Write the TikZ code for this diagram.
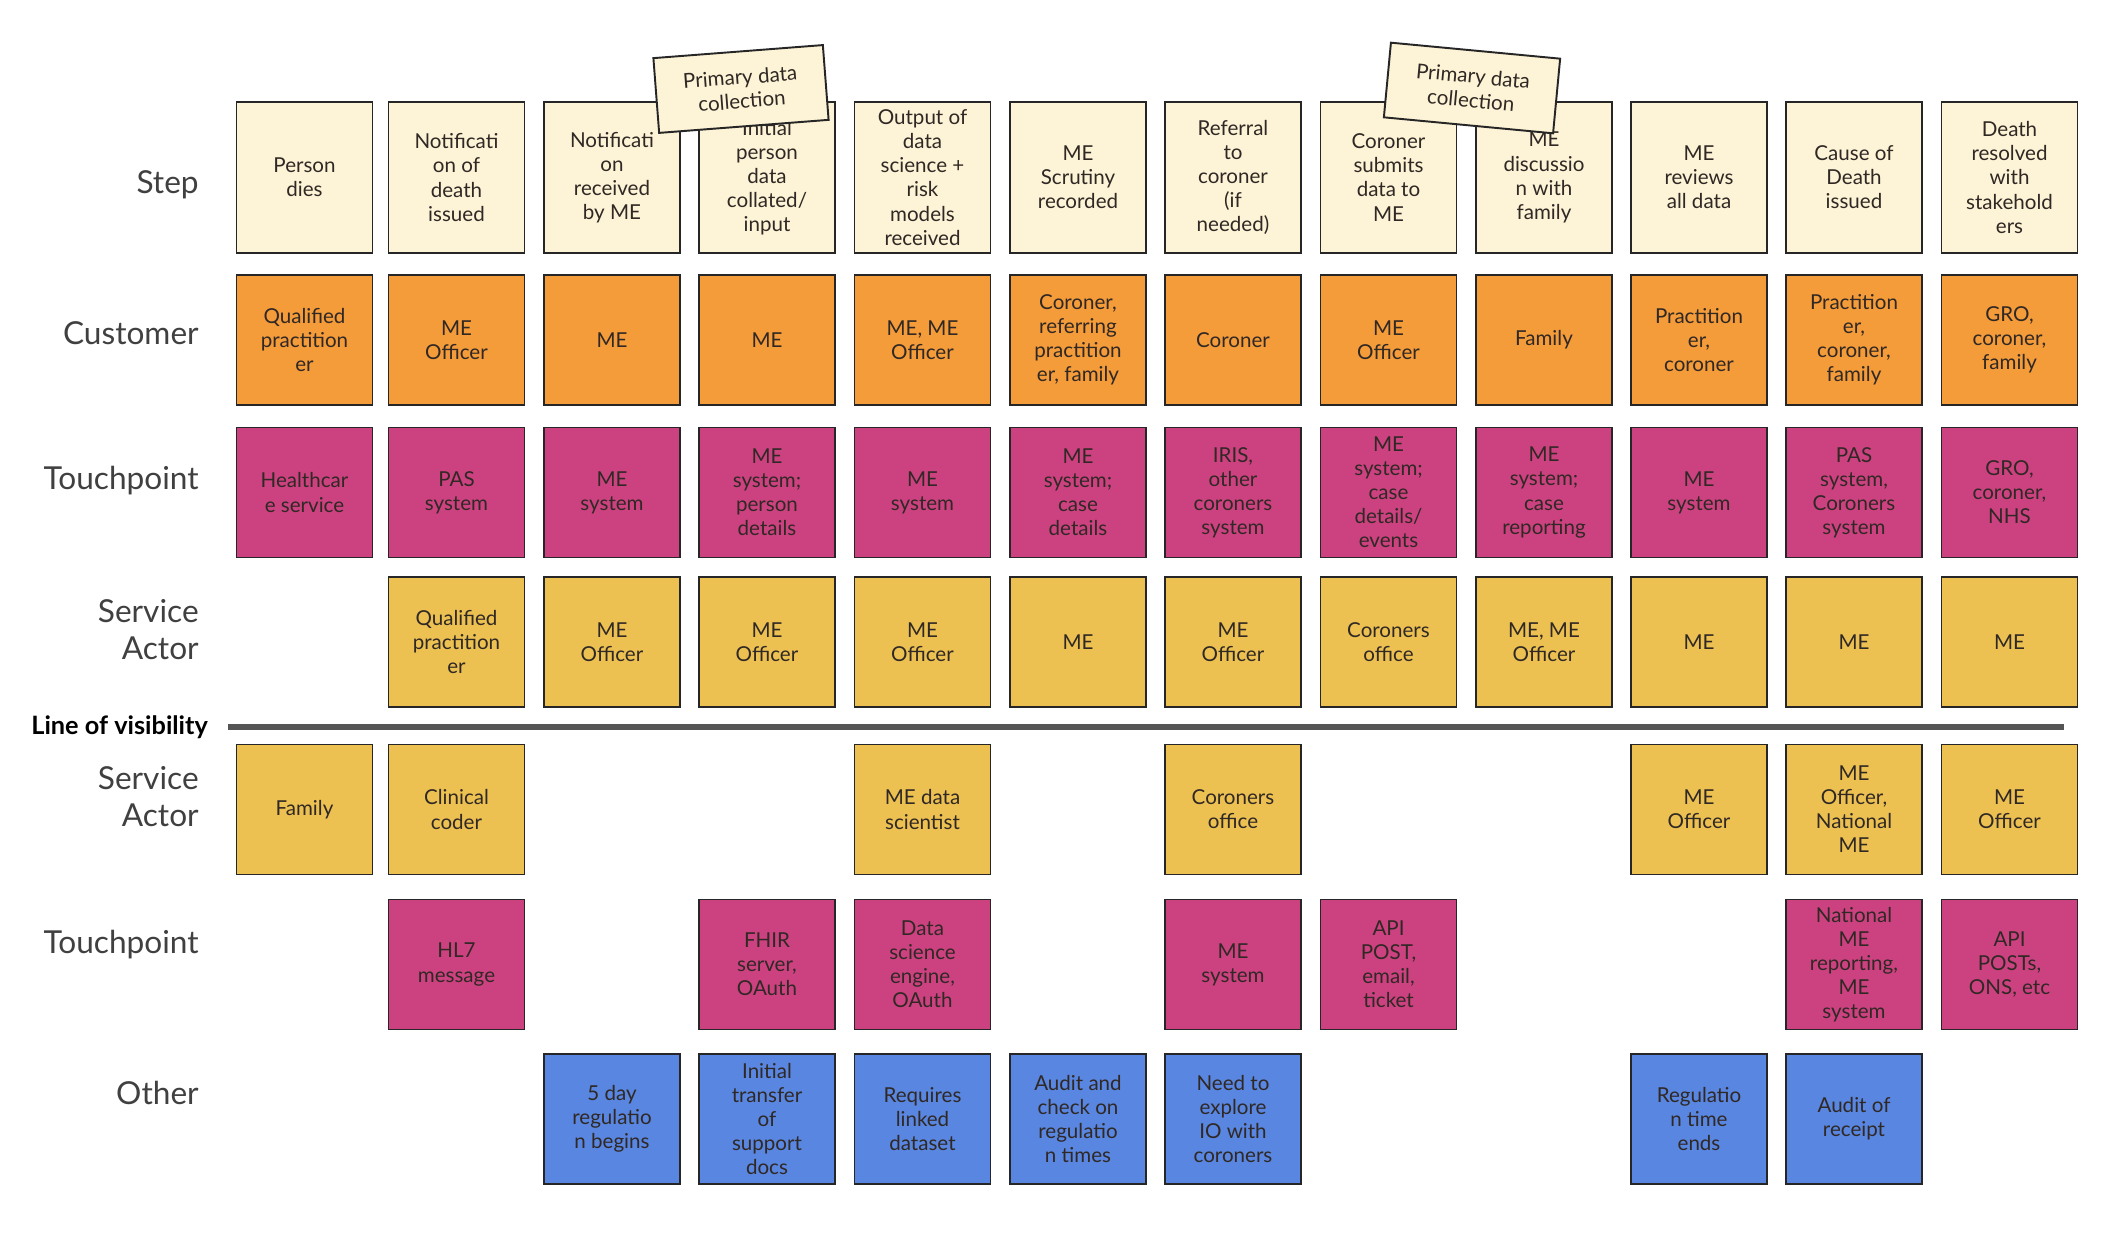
\documentclass[tikz,border=0pt]{standalone}
\usepackage{fontspec}
\setmainfont{Lato}
\usepackage{xcolor}
\usepackage{tikz}
\usetikzlibrary{positioning}
\definecolor{stepcol}{RGB}{253,243,214}
\definecolor{custcol}{RGB}{244,155,58}
\definecolor{touchcol}{RGB}{204,66,128}
\definecolor{actorcol}{RGB}{236,193,82}
\definecolor{othercol}{RGB}{88,134,224}
\definecolor{inkcol}{RGB}{48,40,36}
\definecolor{labelcol}{RGB}{64,64,64}
\definecolor{vizcol}{RGB}{85,85,85}

\begin{document}
\begin{tikzpicture}[
  x=0.02cm, y=-0.02cm,
  card/.style={draw=black!85, line width=1.1pt, inner sep=0pt, align=center,
               minimum width=2.72cm, minimum height=2.6cm, text=inkcol,
               font=\fontsize{11.7}{13.7}\selectfont},
  stepbox/.style={card, fill=stepcol, minimum height=3.02cm},
  custbox/.style={card, fill=custcol},
  touchbox/.style={card, fill=touchcol},
  actorbox/.style={card, fill=actorcol},
  otherbox/.style={card, fill=othercol},
  stickynote/.style={card, fill=stepcol, minimum width=3.4cm,
                     minimum height=1.5cm},
  rowlabel/.style={anchor=east, align=right, text=labelcol, inner sep=0pt,
                   font=\fontsize{18}{21}\selectfont},
  vizline/.style={draw=vizcol, line width=3.4pt}
]
  \fill[white] (0,0) rectangle (2114,1246);
  \useasboundingbox (0,0) rectangle (2114,1246);

  % row labels
  \node[rowlabel] (lstep) at (199,185) {Step};
  \node[rowlabel] (lcust) at (199,333) {Customer};
  \node[rowlabel] (ltouch) at (199,481) {Touchpoint};
  \node[rowlabel] (lactor) at (199,630) {Service\\Actor};
  \node[rowlabel] (lback) at (199,797) {Service\\Actor};
  \node[rowlabel] (lbtouch) at (199,945) {Touchpoint};
  \node[rowlabel] (lother) at (199,1093) {Other};

  % step row
  \node[stepbox] (step1) at (304.5,177.5) {Person\\dies};
  \node[stepbox] (step2) at (456.5,177.5) {Notificati\\on of\\death\\issued};
  \node[stepbox] (step3) at (612,177.5) {Notificati\\on\\received\\by ME};
  \node[stepbox] (step4) at (767,177.5) {Initial\\person\\data\\collated/\\input};
  \node[stepbox] (step5) at (922.5,177.5) {Output of\\data\\science +\\risk\\models\\received};
  \node[stepbox] (step6) at (1078,177.5) {ME\\Scrutiny\\recorded};
  \node[stepbox] (step7) at (1233,177.5) {Referral\\to\\coroner\\(if\\needed)};
  \node[stepbox] (step8) at (1388.5,177.5) {Coroner\\submits\\data to\\ME};
  \node[stepbox] (step9) at (1544,177.5) {ME\\discussio\\n with\\family};
  \node[stepbox] (step10) at (1699,177.5) {ME\\reviews\\all data};
  \node[stepbox] (step11) at (1854,177.5) {Cause of\\Death\\issued};
  \node[stepbox] (step12) at (2009.5,177.5) {Death\\resolved\\with\\stakehold\\ers};

  % sticky notes over the steps
  \node[stickynote, rotate=4.4] (note1) at (741,89) {Primary data\\collection};
  \node[stickynote, rotate=-5.4] (note2) at (1472,88) {Primary data\\collection};

  % customer row
  \node[custbox] (cust1) at (304.5,340) {Qualified\\practition\\er};
  \node[custbox] (cust2) at (456.5,340) {ME\\Officer};
  \node[custbox] (cust3) at (612,340) {ME};
  \node[custbox] (cust4) at (767,340) {ME};
  \node[custbox] (cust5) at (922.5,340) {ME, ME\\Officer};
  \node[custbox] (cust6) at (1078,340) {Coroner,\\referring\\practition\\er, family};
  \node[custbox] (cust7) at (1233,340) {Coroner};
  \node[custbox] (cust8) at (1388.5,340) {ME\\Officer};
  \node[custbox] (cust9) at (1544,340) {Family};
  \node[custbox] (cust10) at (1699,340) {Practition\\er,\\coroner};
  \node[custbox] (cust11) at (1854,340) {Practition\\er,\\coroner,\\family};
  \node[custbox] (cust12) at (2009.5,340) {GRO,\\coroner,\\family};

  % touchpoint row
  \node[touchbox] (tp1) at (304.5,492.5) {Healthcar\\e service};
  \node[touchbox] (tp2) at (456.5,492.5) {PAS\\system};
  \node[touchbox] (tp3) at (612,492.5) {ME\\system};
  \node[touchbox] (tp4) at (767,492.5) {ME\\system;\\person\\details};
  \node[touchbox] (tp5) at (922.5,492.5) {ME\\system};
  \node[touchbox] (tp6) at (1078,492.5) {ME\\system;\\case\\details};
  \node[touchbox] (tp7) at (1233,492.5) {IRIS,\\other\\coroners\\system};
  \node[touchbox] (tp8) at (1388.5,492.5) {ME\\system;\\case\\details/\\events};
  \node[touchbox] (tp9) at (1544,492.5) {ME\\system;\\case\\reporting};
  \node[touchbox] (tp10) at (1699,492.5) {ME\\system};
  \node[touchbox] (tp11) at (1854,492.5) {PAS\\system,\\Coroners\\system};
  \node[touchbox] (tp12) at (2009.5,492.5) {GRO,\\coroner,\\NHS};

  % service actor row
  \node[actorbox] (actor2) at (456.5,642) {Qualified\\practition\\er};
  \node[actorbox] (actor3) at (612,642) {ME\\Officer};
  \node[actorbox] (actor4) at (767,642) {ME\\Officer};
  \node[actorbox] (actor5) at (922.5,642) {ME\\Officer};
  \node[actorbox] (actor6) at (1078,642) {ME};
  \node[actorbox] (actor7) at (1233,642) {ME\\Officer};
  \node[actorbox] (actor8) at (1388.5,642) {Coroners\\office};
  \node[actorbox] (actor9) at (1544,642) {ME, ME\\Officer};
  \node[actorbox] (actor10) at (1699,642) {ME};
  \node[actorbox] (actor11) at (1854,642) {ME};
  \node[actorbox] (actor12) at (2009.5,642) {ME};

  % line of visibility
  \node[anchor=west, inner sep=0pt, font=\fontsize{14.4}{16}\selectfont\bfseries]
    (vizlabel) at (31,727) {Line of visibility};
  \coordinate (vizL) at (228,727);
  \coordinate (vizR) at (2064,727);
  \draw[vizline] (vizL) -- (vizR);

  % backstage service actors
  \node[actorbox] (back1) at (304.5,809.5) {Family};
  \node[actorbox] (back2) at (456.5,809.5) {Clinical\\coder};
  \node[actorbox] (back5) at (922.5,809.5) {ME data\\scientist};
  \node[actorbox] (back7) at (1233,809.5) {Coroners\\office};
  \node[actorbox] (back10) at (1699,809.5) {ME\\Officer};
  \node[actorbox] (back11) at (1854,809.5) {ME\\Officer,\\National\\ME};
  \node[actorbox] (back12) at (2009.5,809.5) {ME\\Officer};

  % backstage touchpoints
  \node[touchbox] (btp2) at (456.5,964.5) {HL7\\message};
  \node[touchbox] (btp4) at (767,964.5) {FHIR\\server,\\OAuth};
  \node[touchbox] (btp5) at (922.5,964.5) {Data\\science\\engine,\\OAuth};
  \node[touchbox] (btp7) at (1233,964.5) {ME\\system};
  \node[touchbox] (btp8) at (1388.5,964.5) {API\\POST,\\email,\\ticket};
  \node[touchbox] (btp11) at (1854,964.5) {National\\ME\\reporting,\\ME\\system};
  \node[touchbox] (btp12) at (2009.5,964.5) {API\\POSTs,\\ONS, etc};

  % other
  \node[otherbox] (other3) at (612,1119) {5 day\\regulatio\\n begins};
  \node[otherbox] (other4) at (767,1119) {Initial\\transfer\\of\\support\\docs};
  \node[otherbox] (other5) at (922.5,1119) {Requires\\linked\\dataset};
  \node[otherbox] (other6) at (1078,1119) {Audit and\\check on\\regulatio\\n times};
  \node[otherbox] (other7) at (1233,1119) {Need to\\explore\\IO with\\coroners};
  \node[otherbox] (other10) at (1699,1119) {Regulatio\\n time\\ends};
  \node[otherbox] (other11) at (1854,1119) {Audit of\\receipt};
\end{tikzpicture}
\end{document}
